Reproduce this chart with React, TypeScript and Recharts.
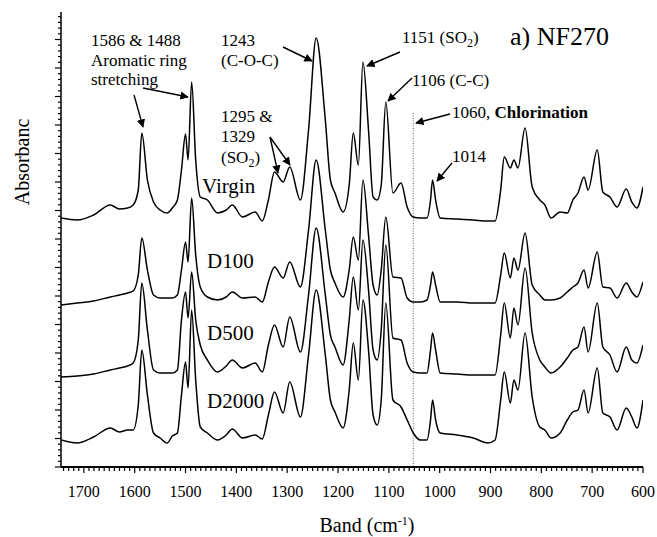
import React from 'react';
import { LineChart, Line, XAxis, YAxis, ReferenceLine } from 'recharts';

// wavenumbers (cm-1)
const bands = [
  1745, 1713, 1681, 1648, 1630, 1614, 1603, 1593, 1586, 1575,
  1563, 1550, 1536, 1526, 1516, 1508, 1500, 1495, 1488, 1480,
  1471, 1457, 1437, 1420, 1408, 1388, 1363, 1349, 1337, 1325,
  1308, 1295, 1274, 1258, 1243, 1225, 1215, 1206, 1190, 1178,
  1170, 1160, 1151, 1140, 1131, 1123, 1115, 1106, 1092, 1076,
  1064, 1052, 1038, 1025, 1018, 1014, 1008, 999, 966, 934,
  905, 891, 880, 873, 861, 854, 846, 832, 818, 803,
  793, 781, 763, 749, 738, 728, 716, 708, 690, 679,
  665, 651, 633, 622, 612, 600,
];

// stacked absorbance traces (offset, a.u.)
const virgin = [
  2.49, 2.47, 2.52, 2.62, 2.58, 2.59, 2.62, 2.77, 3.34, 2.87,
  2.65, 2.57, 2.54, 2.59, 2.67, 2.97, 3.33, 3.07, 3.85, 3.07,
  2.70, 2.67, 2.54, 2.57, 2.62, 2.50, 2.55, 2.46, 2.67, 2.95,
  2.85, 3.00, 2.67, 3.37, 4.29, 3.47, 2.87, 2.74, 2.55, 2.82,
  3.34, 3.02, 4.05, 3.37, 2.70, 2.67, 2.82, 3.65, 2.74, 2.84,
  2.60, 2.50, 2.49, 2.49, 2.67, 2.87, 2.67, 2.49, 2.48, 2.47,
  2.46, 2.46, 2.77, 3.10, 2.99, 3.07, 2.99, 3.39, 2.80, 2.67,
  2.62, 2.49, 2.55, 2.54, 2.67, 2.74, 2.90, 2.77, 3.17, 2.75,
  2.70, 2.60, 2.78, 2.65, 2.59, 2.80,
];
const d100 = [
  1.62, 1.64, 1.66, 1.70, 1.72, 1.74, 1.76, 1.92, 2.29, 1.97,
  1.72, 1.69, 1.69, 1.69, 1.72, 1.97, 2.25, 2.05, 2.69, 2.12,
  1.80, 1.70, 1.67, 1.70, 1.75, 1.69, 1.70, 1.65, 1.85, 2.00,
  1.89, 2.05, 1.80, 2.37, 3.07, 2.37, 1.97, 1.84, 1.70, 1.97,
  2.30, 2.07, 2.87, 2.32, 1.82, 1.72, 1.97, 2.50, 1.90, 1.89,
  1.69, 1.65, 1.65, 1.67, 1.82, 1.95, 1.82, 1.65, 1.65, 1.64,
  1.64, 1.64, 1.92, 2.14, 1.89, 2.09, 1.97, 2.34, 1.82, 1.72,
  1.67, 1.67, 1.69, 1.75, 1.80, 1.84, 1.97, 1.79, 2.15, 1.80,
  1.79, 1.69, 1.84, 1.75, 1.70, 1.85,
];
const d500 = [
  0.90, 0.91, 0.93, 0.97, 0.99, 1.01, 1.04, 1.27, 1.84, 1.37,
  0.97, 0.94, 0.94, 0.94, 0.97, 1.47, 1.75, 1.49, 1.95, 1.47,
  1.22, 1.07, 0.95, 1.01, 1.07, 0.99, 1.04, 0.95, 1.22, 1.42,
  1.20, 1.50, 1.15, 1.72, 2.39, 1.72, 1.32, 1.20, 1.02, 1.47,
  1.90, 1.57, 2.27, 1.77, 1.17, 1.07, 1.37, 2.22, 1.29, 1.27,
  1.04, 0.95, 0.94, 0.94, 1.17, 1.34, 1.17, 0.94, 0.93, 0.92,
  0.92, 0.92, 1.32, 1.64, 1.29, 1.59, 1.42, 1.99, 1.34, 1.07,
  1.00, 0.94, 1.00, 1.09, 1.17, 1.20, 1.40, 1.15, 1.64, 1.20,
  1.12, 0.95, 1.20, 1.07, 1.04, 1.22,
];
const d2000 = [
  0.27, 0.24, 0.30, 0.39, 0.35, 0.37, 0.37, 0.62, 1.17, 0.72,
  0.34, 0.29, 0.24, 0.31, 0.34, 0.72, 1.05, 0.79, 1.57, 0.87,
  0.40, 0.34, 0.27, 0.32, 0.38, 0.29, 0.32, 0.28, 0.52, 0.75,
  0.54, 0.85, 0.50, 1.12, 1.77, 1.12, 0.67, 0.55, 0.39, 0.77,
  1.24, 0.87, 1.67, 1.17, 0.52, 0.42, 0.67, 1.64, 0.67, 0.60,
  0.47, 0.34, 0.27, 0.27, 0.47, 0.67, 0.47, 0.34, 0.32, 0.29,
  0.24, 0.27, 0.67, 0.95, 0.64, 0.87, 0.77, 1.34, 0.70, 0.40,
  0.37, 0.29, 0.34, 0.47, 0.55, 0.57, 0.77, 0.54, 0.99, 0.54,
  0.50, 0.37, 0.59, 0.50, 0.39, 0.67,
];

const bandLabels = [1700, 1600, 1500, 1400, 1300, 1200, 1100, 1000, 900, 800, 700, 600];
const chlorinationBand = 1052;

const rows = bands.map((b, i) => ({ band: b, virgin: virgin[i], d100: d100[i], d500: d500[i], d2000: d2000[i] }));

const xTicks = Array.from({ length: 115 }, (_, i) => 600 + i * 10);
const yTicks = Array.from({ length: 80 }, (_, i) => +(i * 0.057).toFixed(3));

const serif = "'Liberation Serif', 'Times New Roman', serif";

const BandTick = ({ x, y, payload }: any) => {
  const major = bandLabels.includes(payload.value);
  return (
    <g>
      <line x1={x} x2={x} y1={y} y2={y + (major ? 6 : 4)} stroke="#000" strokeWidth={1.2} />
      {major && (
        <text x={x} y={y + 30} textAnchor="middle" fontFamily={serif} fontSize={16} fill="#000">
          {payload.value}
        </text>
      )}
    </g>
  );
};

const AbsTick = ({ x, y, index }: any) => {
  const major = index % 5 === 0;
  return <line x1={x} x2={x - (major ? 6 : 3)} y1={y} y2={y} stroke="#000" strokeWidth={1.2} />;
};

const arrows = [
  [134, 95, 143, 127],
  [143, 88, 188, 97],
  [283, 47, 312, 61],
  [270, 137, 278, 173],
  [270, 137, 290, 165],
  [400, 52, 367, 66],
  [412, 78, 388, 101],
  [450, 114, 416, 123],
  [452, 163, 437, 181],
];

const Sub2 = () => (
  <>
    <tspan dy={4} fontSize={12}>2</tspan>
    <tspan dy={-4}>)</tspan>
  </>
);

export default function App() {
  return (
    <div style={{ position: 'absolute', left: 0, top: 0, width: 657, height: 537, background: '#fff' }}>
      <LineChart width={657} height={537} data={rows} margin={{ top: 12, right: 14, bottom: 0, left: 0 }}>
        <XAxis
          dataKey="band"
          type="number"
          domain={[600, 1745]}
          reversed
          allowDataOverflow
          ticks={xTicks}
          interval={0}
          tick={<BandTick />}
          tickLine={false}
          tickSize={0}
          tickMargin={0}
          axisLine={{ stroke: '#000', strokeWidth: 2 }}
          height={70}
        />
        <XAxis xAxisId="top" orientation="top" type="number" domain={[600, 1745]} reversed height={0} tick={false} tickLine={false} axisLine={{ stroke: '#000', strokeWidth: 1 }} />
        <YAxis
          type="number"
          domain={[0, 4.55]}
          allowDataOverflow
          ticks={yTicks}
          interval={0}
          tick={<AbsTick />}
          tickLine={false}
          tickSize={0}
          tickMargin={0}
          axisLine={{ stroke: '#000', strokeWidth: 1.5 }}
          width={61}
        />
        <YAxis yAxisId="right" orientation="right" type="number" domain={[0, 4.55]} width={0} tick={false} tickLine={false} axisLine={{ stroke: '#000', strokeWidth: 2 }} />
        <ReferenceLine
          segment={[{ x: chlorinationBand, y: 3.54 }, { x: chlorinationBand, y: 0 }]}
          stroke="#666"
          strokeDasharray="1 1.5"
          strokeWidth={1}
        />
        <Line type="monotone" dataKey="virgin" stroke="#000" strokeWidth={1.5} dot={false} isAnimationActive={false} />
        <Line type="monotone" dataKey="d100" stroke="#000" strokeWidth={1.5} dot={false} isAnimationActive={false} />
        <Line type="monotone" dataKey="d500" stroke="#000" strokeWidth={1.5} dot={false} isAnimationActive={false} />
        <Line type="monotone" dataKey="d2000" stroke="#000" strokeWidth={1.5} dot={false} isAnimationActive={false} />
      </LineChart>
      <svg width={657} height={537} style={{ position: 'absolute', left: 0, top: 0, pointerEvents: 'none' }} fontFamily={serif} fill="#000">
        <defs>
          <marker id="ah" viewBox="0 0 10 10" refX="9" refY="5" markerWidth="6" markerHeight="6" orient="auto">
            <path d="M0,0 L10,5 L0,10 z" fill="#000" />
          </marker>
        </defs>
        {arrows.map((a, i) => (
          <line key={i} x1={a[0]} y1={a[1]} x2={a[2]} y2={a[3]} stroke="#000" strokeWidth={1.4} markerEnd="url(#ah)" />
        ))}
        <g fontSize={17}>
          <text x={91} y={46}>1586 &amp; 1488</text>
          <text x={91} y={66}>Aromatic ring</text>
          <text x={91} y={85}>stretching</text>
          <text x={221} y={46}>1243</text>
          <text x={221} y={66}>(C-O-C)</text>
          <text x={221} y={122}>1295 &amp;</text>
          <text x={221} y={142}>1329</text>
          <text x={221} y={163}>(SO<Sub2 /></text>
          <text x={402} y={43}>1151 (SO<Sub2 /></text>
          <text x={412} y={86}>1106 (C-C)</text>
          <text x={452} y={118}>1060, <tspan fontWeight="bold">Chlorination</tspan></text>
          <text x={452} y={162}>1014</text>
        </g>
        <text x={510} y={45} fontSize={26}>a) NF270</text>
        <g fontSize={21}>
          <text x={202} y={193}>Virgin</text>
          <text x={207} y={268}>D100</text>
          <text x={207} y={340}>D500</text>
          <text x={207} y={408}>D2000</text>
        </g>
        <text x={22} y={162} fontSize={20} textAnchor="middle" dominantBaseline="central" transform="rotate(-90, 22, 162)">Absorbanc</text>
        <text x={367} y={532} fontSize={20} textAnchor="middle">
          Band (cm<tspan dy={-7} fontSize={12}>-1</tspan><tspan dy={7}>)</tspan>
        </text>
      </svg>
    </div>
  );
}
